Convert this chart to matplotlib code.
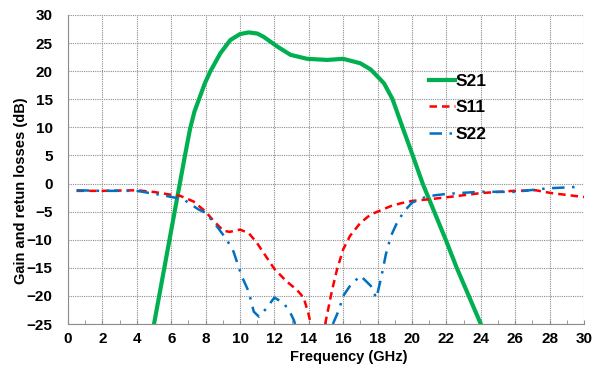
import matplotlib

matplotlib.use("Agg")
import matplotlib.pyplot as plt
from matplotlib.ticker import MultipleLocator

# S21 gain (dB) vs frequency (GHz)
s21_f = [5.0, 5.3, 5.6, 5.9, 6.2, 6.5, 6.8, 7.1, 7.35, 7.65, 7.95, 8.28, 8.86, 9.44, 10.0, 10.5, 11.0, 11.38, 12.16, 12.94, 13.9, 15.07, 16.0, 17.0, 17.6, 18.2, 18.38, 18.87, 19.45, 20.04, 20.62, 21.29, 21.96, 22.6, 23.3, 24.0]
s21_db = [-25.0, -20.0, -15.0, -10.0, -5.0, 0.0, 5.0, 9.8, 12.8, 15.3, 17.8, 20.0, 23.2, 25.55, 26.6, 26.9, 26.7, 26.1, 24.4, 22.9, 22.2, 22.0, 22.2, 21.4, 20.3, 18.4, 17.8, 15.0, 10.0, 5.0, 0.0, -5.0, -10.0, -15.0, -20.0, -25.0]

# S11 return loss (two pieces, dips below the axis between them)
s11_f = [0.5, 2.0, 4.0, 5.0, 6.0, 6.53, 7.3, 8.0, 8.45, 9.03, 9.4, 10.0, 10.5, 10.97, 11.56, 12.0, 12.7, 13.3, 13.7, 13.97, 14.12]
s11_db = [-1.3, -1.3, -1.2, -1.5, -2.0, -2.2, -3.2, -5.0, -6.6, -8.4, -8.6, -8.2, -8.8, -10.5, -13.2, -15.2, -17.4, -18.9, -20.3, -23.1, -25.0]
s11_f2 = [14.95, 15.35, 15.64, 16.0, 16.4, 17.0, 17.6, 18.0, 18.78, 19.37, 20.0, 21.3, 22.0, 24.0, 25.9, 27.2, 28.1, 30.0]
s11_db2 = [-25.0, -19.0, -15.3, -11.7, -9.3, -7.0, -5.5, -5.0, -4.0, -3.5, -3.1, -2.7, -2.45, -1.7, -1.3, -1.2, -1.7, -2.4]

# S22 return loss
s22_f = [0.5, 2.0, 4.0, 5.35, 6.7, 7.58, 8.0, 8.65, 9.23, 9.62, 10.1, 10.5, 10.8, 11.1, 11.48, 12.0, 12.55, 12.94, 13.13, 13.2]
s22_db = [-1.2, -1.3, -1.3, -2.0, -2.8, -4.6, -5.2, -7.6, -10.0, -12.1, -16.5, -19.2, -22.8, -23.7, -22.4, -20.3, -21.3, -23.1, -24.3, -25.0]
s22_f2 = [15.4, 15.75, 16.0, 16.4, 17.0, 17.6, 17.93, 18.23, 18.48, 18.78, 19.17, 19.56, 20.0, 20.7, 21.3, 22.0, 24.0, 25.9, 27.9, 29.6]
s22_db2 = [-25.0, -22.5, -20.0, -18.2, -16.4, -18.2, -20.4, -16.4, -12.6, -9.3, -6.7, -4.9, -3.4, -2.5, -2.1, -1.85, -1.45, -1.5, -0.85, -0.6]

plt.rcParams["font.family"] = ["Liberation Sans", "DejaVu Sans"]
plt.rcParams["font.weight"] = "bold"

fig = plt.figure(figsize=(6.03, 3.70), dpi=100)
ax = fig.add_axes([0.1128, 0.1243, 0.8557, 0.8352])

s11_style = dict(color="#ff0000", linewidth=1.8, linestyle=(0, (3, 2)))
s22_style = dict(color="#0070c0", linewidth=1.8, linestyle=(0, (5, 3, 1, 3)))

ax.plot(s21_f, s21_db, color="#00b050", linewidth=3.0, label="S21", solid_joinstyle="round")
ax.plot(s11_f, s11_db, label="S11", **s11_style)
ax.plot(s11_f2, s11_db2, **s11_style)
ax.plot(s22_f, s22_db, label="S22", **s22_style)
ax.plot(s22_f2, s22_db2, **s22_style)

ax.set_xlim(0, 30)
ax.set_ylim(-25, 30)
ax.xaxis.set_major_locator(MultipleLocator(2))
ax.xaxis.set_minor_locator(MultipleLocator(1))
ax.yaxis.set_major_locator(MultipleLocator(5))
ax.grid(True, which="major", color="#8c8c8c", linestyle=(0, (1, 1)), linewidth=0.8)
ax.tick_params(axis="x", which="both", direction="in", length=3, color="#8c8c8c", labelsize=11, pad=6)
ax.tick_params(axis="y", length=0, labelsize=11, pad=11)
for lab in ax.get_xticklabels() + ax.get_yticklabels():
    lab.set_fontweight("bold")
for side in ["left", "bottom"]:
    ax.spines[side].set_color("#8c8c8c")
for side in ["top", "right"]:
    ax.spines[side].set_visible(False)

ax.set_xlabel("Frequency (GHz)", fontsize=10.5, fontweight="bold")
ax.xaxis.set_label_coords(0.545, -0.085)
ax.set_ylabel("Gain and retun losses (dB)", fontsize=10.5, fontweight="bold")
ax.yaxis.set_label_coords(-0.078, 0.43)

leg = ax.legend(loc="upper left", bbox_to_anchor=(0.67, 0.86), frameon=False, fontsize=12.5,
                handlelength=1.5, handletextpad=0.0, labelspacing=0.65)
for t in leg.get_texts():
    t.set_fontweight("bold")

fig.savefig("out.png", dpi=100)
